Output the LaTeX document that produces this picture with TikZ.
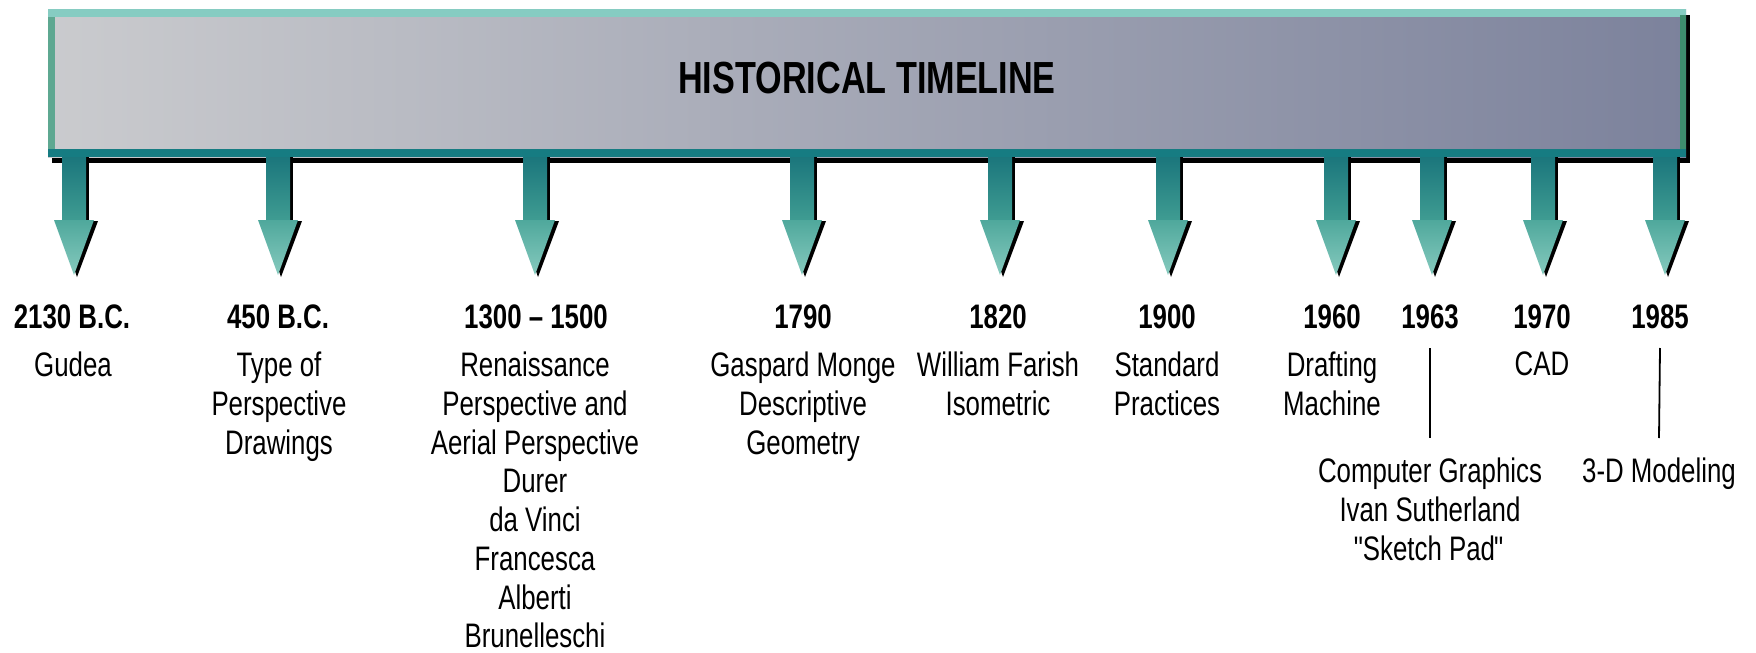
\documentclass[tikz,border=0pt]{standalone}
\usepackage{fontspec}
\setmainfont{Liberation Sans}[FakeStretch=0.76]
\usetikzlibrary{shadows}

\definecolor{barleft}{HTML}{CACBCE}
\definecolor{barright}{HTML}{7C829C}
\definecolor{tealhi}{HTML}{86CCC2}
\definecolor{tealside}{HTML}{5EA891}
\definecolor{tealdark}{HTML}{167C82}
\definecolor{edgegreen}{HTML}{3E8D6E}
\definecolor{shafttop}{HTML}{1B767C}
\definecolor{shaftbot}{HTML}{3F9C92}
\definecolor{headtop}{HTML}{4FA89C}
\definecolor{headbot}{HTML}{86CABE}

\tikzset{
	year/.style={font=\bfseries\fontsize{34}{38.7}\selectfont, anchor=base, inner sep=0pt},
	note/.style={font=\fontsize{34}{38.7}\selectfont, align=center, anchor=north, inner sep=0pt},
	link/.style={draw=black, line width=1.8pt},
}

\begin{document}
\begin{tikzpicture}[x=1pt, y=-1pt]
			\useasboundingbox (0,0) rectangle (1756,653);

			\node[left color=barleft, right color=barright, minimum width=1638pt, minimum height=148pt, inner sep=0pt,
				drop shadow={shadow xshift=4pt, shadow yshift=-6pt, fill=black, opacity=1}] (bar) at (867,83) {};
			\fill[tealhi] (bar.north west) rectangle ([yshift=-8pt]bar.north east);
			\fill[tealside] ([yshift=-8pt]bar.north west) rectangle ([xshift=7pt]bar.south west);
			\fill[tealdark] ([yshift=8pt]bar.south west) rectangle (bar.south east);
			\fill[edgegreen] ([xshift=-6pt,yshift=-6pt]bar.north east) rectangle ([yshift=8pt]bar.south east);
			\node[font=\bfseries\fontsize{45}{50}\selectfont] (title) at (867,78) {HISTORICAL TIMELINE};

			\foreach \x in {74, 278, 535, 802, 1000, 1168, 1336, 1432, 1543, 1665}
				{
					\fill[black] (\x-9,157) rectangle (\x+15,220);
					\shade[top color=shafttop, bottom color=shaftbot] (\x-12,157) rectangle (\x+12,220);
					\fill[black] (\x-16,221) -- (\x+24,221) -- (\x+3,277) -- cycle;
					\shade[top color=headtop, bottom color=headbot] (\x-20,220) -- (\x+20,220) -- (\x,275) -- cycle;
				}

			\node[year] (y2130) at (72,328) {2130 B.C.};
			\node[year] (y450) at (278,328) {450 B.C.};
			\node[year] (y1300) at (536,328) {1300 – 1500};
			\node[year] (y1790) at (803,328) {1790};
			\node[year] (y1820) at (998,328) {1820};
			\node[year] (y1900) at (1167,328) {1900};
			\node[year] (y1960) at (1332,328) {1960};
			\node[year] (y1963) at (1430,328) {1963};
			\node[year] (y1970) at (1542,328) {1970};
			\node[year] (y1985) at (1660,328) {1985};

			\node[note] (t2130) at (73,352) {Gudea};
			\node[note] (t450) at (279,352) {Type of\\Perspective\\Drawings};
			\node[note] (t1300) at (535,352) {Renaissance\\Perspective and\\Aerial Perspective\\Durer\\da Vinci\\Francesca\\Alberti\\Brunelleschi};
			\node[note] (t1790) at (803,352) {Gaspard Monge\\Descriptive\\Geometry};
			\node[note] (t1820) at (998,352) {William Farish\\Isometric};
			\node[note] (t1900) at (1167,352) {Standard\\Practices};
			\node[note] (t1960) at (1332,352) {Drafting\\Machine};
			\node[note] (t1963) at (1430,458) {Computer Graphics\\Ivan Sutherland\\\textquotedbl\kern-3pt Sketch Pad\kern-1pt\textquotedbl};
			\node[note] (t1970) at (1542,352) {CAD};
			\node[note] (t1985) at (1659,458) {3-D Modeling};

			\draw[link] ([yshift=-20pt]y1963.base) -- ([yshift=20pt]t1963.north);
			\draw[link] ([yshift=-20pt]y1985.base) -- ([yshift=20pt]t1985.north);
		\end{tikzpicture}
\end{document}
